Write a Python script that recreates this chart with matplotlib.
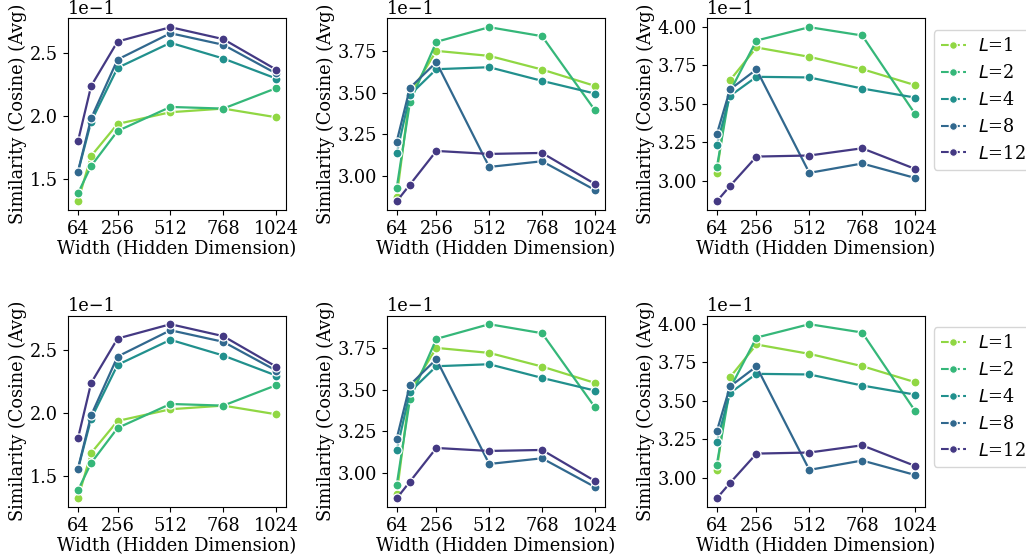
import matplotlib
matplotlib.use("Agg")
import matplotlib.pyplot as plt
import numpy as np
from matplotlib.lines import Line2D

plt.rcParams['font.family'] = 'DejaVu Serif'
plt.rcParams['font.size'] = 12.8

widths = [64, 128, 256, 512, 768, 1024]
layers = [1, 2, 4, 8, 12]

# similarity values per panel, one row per layer count (L=1, 2, 4, 8, 12)
sim_left = [
    [0.1324, 0.1684, 0.1939, 0.2032, 0.2061, 0.1992],
    [0.1387, 0.1605, 0.1883, 0.2074, 0.2061, 0.2223],
    [0.1555, 0.1958, 0.2385, 0.2584, 0.2459, 0.2300],
    [0.1560, 0.1984, 0.2451, 0.2660, 0.2568, 0.2340],
    [0.1800, 0.2241, 0.2594, 0.2708, 0.2613, 0.2371],
]
sim_mid = [
    [0.2874, 0.3490, 0.3750, 0.3720, 0.3638, 0.3540],
    [0.2928, 0.3442, 0.3804, 0.3892, 0.3838, 0.3394],
    [0.3136, 0.3486, 0.3640, 0.3652, 0.3570, 0.3494],
    [0.3206, 0.3528, 0.3682, 0.3054, 0.3088, 0.2916],
    [0.2848, 0.2948, 0.3150, 0.3132, 0.3138, 0.2952],
]
sim_right = [
    [0.3052, 0.3653, 0.3866, 0.3805, 0.3725, 0.3621],
    [0.3085, 0.3580, 0.3911, 0.3998, 0.3944, 0.3434],
    [0.3234, 0.3551, 0.3675, 0.3671, 0.3599, 0.3540],
    [0.3302, 0.3593, 0.3723, 0.3050, 0.3111, 0.3017],
    [0.2865, 0.2965, 0.3156, 0.3163, 0.3210, 0.3076],
]
panels = [sim_left, sim_mid, sim_right]

cmap = plt.get_cmap('viridis_r')
colors = [cmap(v) for v in np.linspace(0, 1, len(layers) + 2)[1:-1]]

fig = plt.figure(figsize=(10.26, 5.6), dpi=100)
lefts = [0.0663, 0.377, 0.689]
bottoms = [0.625, 0.0946]
w, h = 0.2125, 0.342

for row, b in enumerate(bottoms):
    for col, data in enumerate(panels):
        ax = fig.add_axes([lefts[col], b, w, h])
        for vals, c in zip(data, colors):
            ax.plot(widths, vals, '-', color=c, marker='o', markersize=6.5,
                    markeredgecolor='white', markeredgewidth=0.9, linewidth=1.6)
        ax.set_xticks([64, 256, 512, 768, 1024])
        ax.ticklabel_format(axis='y', style='sci', scilimits=(0, 0))
        ax.set_xlabel('Width (Hidden Dimension)', labelpad=2)
        ax.set_ylabel('Similarity (Cosine) (Avg)', labelpad=2)
        if col == 2:
            handles = [Line2D([], [], color=c, linestyle='--', marker='o', markersize=5.5,
                              markeredgecolor='white', markeredgewidth=0.8, linewidth=1.5)
                       for c in colors]
            ax.legend(handles, [f'$L$={l}' for l in layers], loc='upper left',
                      bbox_to_anchor=(1.04, 0.94), borderaxespad=0, fontsize=12.8,
                      handlelength=1.4, handletextpad=0.7, borderpad=0.4)

fig.savefig('out.png', dpi=100)
